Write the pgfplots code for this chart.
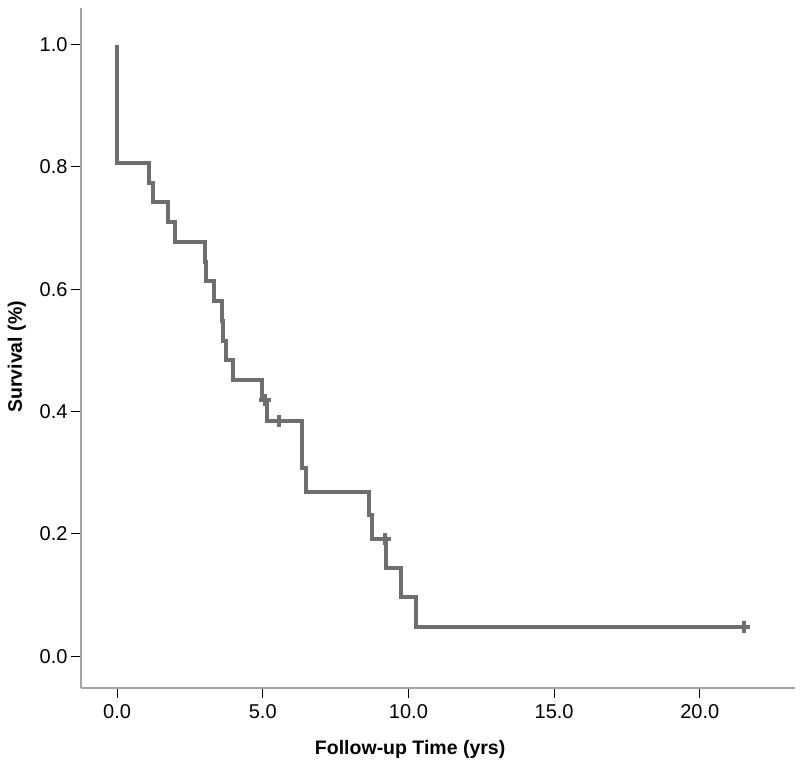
\documentclass[border=0pt]{standalone}
\usepackage{pgfplots}
\pgfplotsset{compat=1.18}
\usepackage{fontspec}
\setmainfont{Liberation Sans}
\definecolor{curve}{HTML}{6E6E6E}
\definecolor{axisgray}{HTML}{A4A4A4}
\begin{document}
\begin{tikzpicture}
\begin{axis}[
    scale only axis,
    width=714pt, height=680pt,
    xmin=-1.24, xmax=23.27,
    ymin=-0.052, ymax=1.06,
    axis x line*=bottom, axis y line*=left,
    axis line style={axisgray, line width=2.5pt},
    xtick={0,5,10,15,20},
    ytick={0,0.2,0.4,0.6,0.8,1.0},
    tick align=outside,
    major tick length=10pt,
    tick style={black, line width=1pt},
    /pgf/number format/.cd, fixed, fixed zerofill, precision=1, assume math mode=true,
    /pgfplots/.cd,
    ticklabel style={font=\fontsize{20}{23}\selectfont},
    xticklabel style={yshift=-3pt},
    xlabel={\textbf{Follow-up Time (yrs)}},
    ylabel={\textbf{Survival (\%)}},
    label style={font=\fontsize{19.5}{23}\selectfont},
    xlabel style={at={(axis description cs:0.461,-0.091)}, anchor=center},
    ylabel style={at={(axis description cs:-0.09,0.487)}, anchor=center},
    clip=false,
]
\addplot[const plot, curve, line width=4pt, line join=miter] coordinates {
    (0,1.000) (0,0.806) (1.08,0.774) (1.22,0.742) (1.76,0.710) (1.99,0.677)
    (3.02,0.645) (3.06,0.613) (3.33,0.581) (3.59,0.548) (3.65,0.516)
    (3.74,0.484) (3.99,0.452) (4.99,0.419) (5.14,0.384) (6.33,0.307)
    (6.49,0.269) (8.65,0.231) (8.75,0.192) (9.23,0.144) (9.73,0.096)
    (10.25,0.048) (21.52,0.048)
};
\addplot[only marks, mark=+, mark size=6pt, curve, line width=3.5pt] coordinates {
    (5.08,0.419) (5.56,0.384) (9.20,0.192) (21.52,0.048)
};
\end{axis}
\pgfresetboundingbox
\useasboundingbox ([xshift=-81pt,yshift=-82pt]current axis.south west)
    rectangle ([xshift=5pt,yshift=8pt]current axis.north east);
\end{tikzpicture}
\end{document}
